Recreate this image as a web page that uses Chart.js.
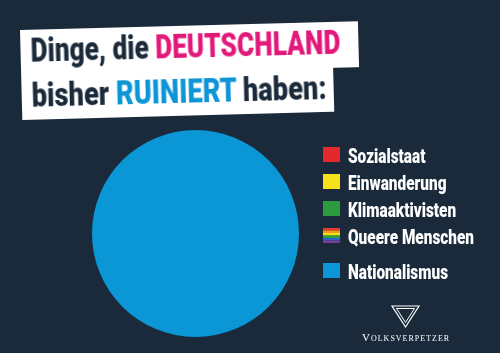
<!DOCTYPE html>
<html>
<head>
<meta charset="utf-8">
<script src="https://cdn.jsdelivr.net/npm/chart.js@4.4.1/dist/chart.umd.min.js"></script>
<style>
html, body { margin: 0; padding: 0; background: #1b2a3b; }
#wrap { position: relative; width: 500px; height: 353px; overflow: hidden; }
#chart { position: absolute; left: 0; top: 0; }
.title { position: absolute; left: 20px; top: 30px; transform-origin: 0 0; transform: rotate(-1.5deg);
  font-family: Roboto, "Liberation Sans", sans-serif; font-weight: 900; color: #1b2a3b; }
.title .box { position: relative; background: #fff; }
.title .l1 { width: 338px; height: 46px; }
.title .l2 { width: 312px; height: 44px; }
.title .txt { position: absolute; left: 10px; font-size: 34px; line-height: 1; white-space: nowrap;
  transform-origin: 0 0; }
.title .l1 .txt { top: 3px; }
.title .l2 .txt { top: 2px; }
.pink { color: #e2187b; }
.blue { color: #0e95d6; }
#logo { position: absolute; left: 388px; top: 304px; }
#logoText { position: absolute; left: 362px; top: 331px; font-family: "Liberation Serif", serif; font-size: 11px;
  font-variant: small-caps; letter-spacing: 1px; color: #fff; }
</style>
</head>
<body>
<div id="wrap">
  <canvas id="chart" width="500" height="353"></canvas>
  <div class="title">
    <div class="box l1"><span class="txt" data-w="310">Dinge, die <span class="pink">DEUTSCHLAND</span></span></div>
    <div class="box l2"><span class="txt" data-w="295">bisher <span class="blue">RUINIERT</span> haben:</span></div>
  </div>
  <svg id="logo" width="34" height="26">
    <polygon points="4,2 31,2 17.5,23" fill="none" stroke="#fff" stroke-width="1.2"/>
    <polygon points="8.5,4.5 26.5,4.5 17.5,18.5" fill="none" stroke="#fff" stroke-width="1"/>
  </svg>
  <div id="logoText">Volksverpetzer</div>
</div>
<script>
// data
var labels = ['Sozialstaat', 'Einwanderung', 'Klimaaktivisten', 'Queere Menschen', 'Nationalismus'];
var values = [0, 0, 0, 0, 100];
var rainbow = ['#e53a2f', '#f39a1f', '#f5e11a', '#2f9f3e', '#2a63c9', '#7a3c97'];

// squeeze the title lines to the condensed width of the original
document.querySelectorAll('.title .txt').forEach(function (el) {
    el.style.transform = 'scaleX(' + (el.dataset.w / el.offsetWidth) + ')';
});

// rainbow swatch pattern
var pc = document.createElement('canvas');
pc.width = 17; pc.height = 15;
var pctx = pc.getContext('2d');
for (var i = 0; i < rainbow.length; i++) {
    pctx.fillStyle = rainbow[i];
    pctx.fillRect(0, i * 2.5, 17, 2.6);
}
var ctx = document.getElementById('chart').getContext('2d');
var colors = ['#e3292b', '#f6e21b', '#2c9b3f', ctx.createPattern(pc, 'no-repeat'), '#0b96d5'];

// legend drawn by hand (extra gap before last entry)
var sideLegend = {
    id: 'sideLegend',
    afterDraw: function (chart, args, opts) {
        var c = chart.ctx;
        var ds = chart.data.datasets[0];
        var y = opts.top;
        c.save();
        c.font = opts.font;
        var sx = opts.refWidth / c.measureText(opts.refText).width;
        c.restore();
        chart.data.labels.forEach(function (label, i) {
            if (i === chart.data.labels.length - 1) y += opts.extraGap;
            c.save();
            c.translate(opts.x, y);
            c.fillStyle = ds.backgroundColor[i];
            c.fillRect(0, 0, opts.boxW, opts.boxH);
            c.restore();
            c.save();
            c.translate(opts.x + opts.boxW + 8, y + 16);
            c.scale(sx, 1);
            c.fillStyle = '#fff';
            c.font = opts.font;
            c.fillText(label, 0, 0);
            c.restore();
            y += opts.rowGap;
        });
    }
};

new Chart(ctx, {
    type: 'pie',
    data: {
        labels: labels,
        datasets: [{
            data: values,
            backgroundColor: colors,
            borderWidth: 0
        }]
    },
    options: {
        responsive: false,
        animation: false,
        layout: { padding: { left: 92, right: 201, top: 130, bottom: 16 } },
        plugins: {
            legend: { display: false },
            tooltip: { enabled: false },
            sideLegend: {
                x: 323, top: 147, boxW: 17, boxH: 15, rowGap: 27, extraGap: 8,
                font: '900 21px Roboto, "Liberation Sans", sans-serif',
                refText: 'Queere Menschen', refWidth: 126
            }
        }
    },
    plugins: [sideLegend]
});
</script>
</body>
</html>
